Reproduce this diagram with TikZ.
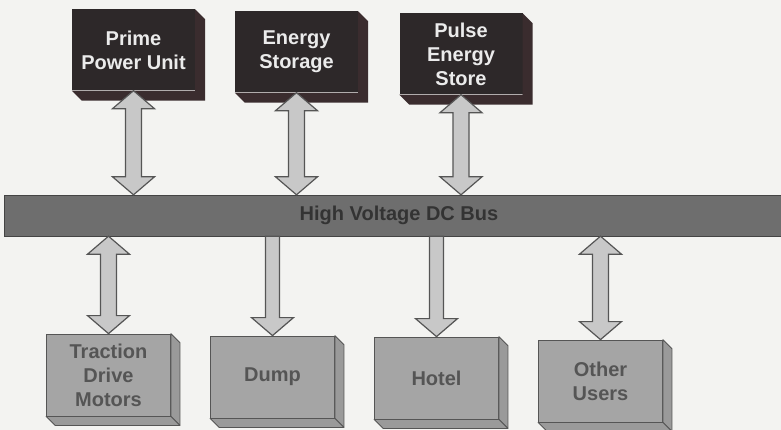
\documentclass[tikz,border=0pt]{standalone}
\usepackage{fontspec}
\setmainfont{Liberation Sans}
\usetikzlibrary{calc}
\definecolor{paper}{HTML}{F3F3F1}
\definecolor{darkbox}{HTML}{2D2829}
\definecolor{darkside}{HTML}{3A2C2E}
\definecolor{greybox}{HTML}{A5A5A5}
\definecolor{greyside}{HTML}{9A9A9A}
\definecolor{busgrey}{HTML}{6E6E6E}
\definecolor{arrowgrey}{HTML}{C8C8C8}
\definecolor{edgegrey}{HTML}{555555}
\begin{document}
\begin{tikzpicture}[
    x=1pt, y=-1pt,
    font=\fontsize{20}{24}\selectfont\bfseries,
    source/.style={rectangle, fill=darkbox, text=white!92!black, inner sep=0pt,
        minimum width=123pt, minimum height=81pt, align=center},
    load/.style={rectangle, draw=edgegrey, line width=0.8pt, fill=greybox, text=edgegrey,
        inner sep=0pt, minimum width=124pt, minimum height=82pt, align=center},
    bus/.style={rectangle, draw=edgegrey!80!black, fill=busgrey, text=black!80,
        minimum width=790pt, minimum height=41pt, inner sep=0pt},
    fatarrow/.style={draw=edgegrey, line width=1.2pt, fill=arrowgrey, line join=miter},
    fatboth/.style={fatarrow, to path={
        -- ($(\tikztostart)+(21,18)$) -- ($(\tikztostart)+(8,18)$)
        -- ($(\tikztotarget)+(8,-18)$) -- ($(\tikztotarget)+(21,-18)$)
        -- (\tikztotarget)
        -- ($(\tikztotarget)+(-21,-18)$) -- ($(\tikztotarget)+(-8,-18)$)
        -- ($(\tikztostart)+(-8,18)$) -- ($(\tikztostart)+(-21,18)$) -- cycle}},
    fatdown/.style={fatarrow, to path={
        ($(\tikztostart)+(-7,0)$) -- ($(\tikztostart)+(7,0)$)
        -- ($(\tikztotarget)+(7,-18)$) -- ($(\tikztotarget)+(21,-18)$)
        -- (\tikztotarget)
        -- ($(\tikztotarget)+(-21,-18)$) -- ($(\tikztotarget)+(-7,-18)$) -- cycle}}
]

% paper
\fill[paper] (0,0) rectangle (781,430);
\useasboundingbox (0,0) rectangle (781,430);

% sources on top
\node[source] (prime) at (133.5,50) {Prime\\Power Unit};
\node[source] (energy) at (296.5,52) {Energy\\Storage};
\node[source] (pulse) at (461,54) {Pulse\\Energy\\Store};

% loads below
\node[load] (traction) at (108.5,375) {Traction\\Drive\\Motors};
\node[load] (dump) at (272.5,377) {Dump};
\node[load] (hotel) at (436.5,378) {Hotel};
\node[load] (other) at (600.5,381) {Other\\Users};

% box depth
\foreach \n in {prime,energy,pulse} {
    \fill[darkside] (\n.north east) -- ++(10pt,-10pt) -- ($(\n.south east)+(10pt,-10pt)$)
        -- ($(\n.south west)+(10pt,-10pt)$) -- (\n.south west) -- (\n.south east) -- cycle;
}
\foreach \n in {traction,dump,hotel,other} {
    \filldraw[greyside, draw=edgegrey, line width=0.8pt, line join=round]
        (\n.north east) -- ++(9pt,-9pt) -- ($(\n.south east)+(9pt,-9pt)$) -- (\n.south east) -- cycle;
    \filldraw[greyside, draw=edgegrey, line width=0.8pt, line join=round]
        (\n.south west) -- ++(9pt,-9pt) -- ($(\n.south east)+(9pt,-9pt)$) -- (\n.south east) -- cycle;
}

% bus
\node[bus] (bus) at (399,215.5) {High Voltage DC Bus};

% arrows to the bus
\draw[fatboth] (prime.south) to (prime.south |- bus.north);
\draw[fatboth] (energy.south) to (energy.south |- bus.north);
\draw[fatboth] (pulse.south) to (pulse.south |- bus.north);

% arrows from the bus
\draw[fatboth] (traction.north |- bus.south) to (traction.north);
\draw[fatdown] (dump.north |- bus.south) to (dump.north);
\draw[fatdown] (hotel.north |- bus.south) to (hotel.north);
\draw[fatboth] (other.north |- bus.south) to (other.north);

\end{tikzpicture}
\end{document}
